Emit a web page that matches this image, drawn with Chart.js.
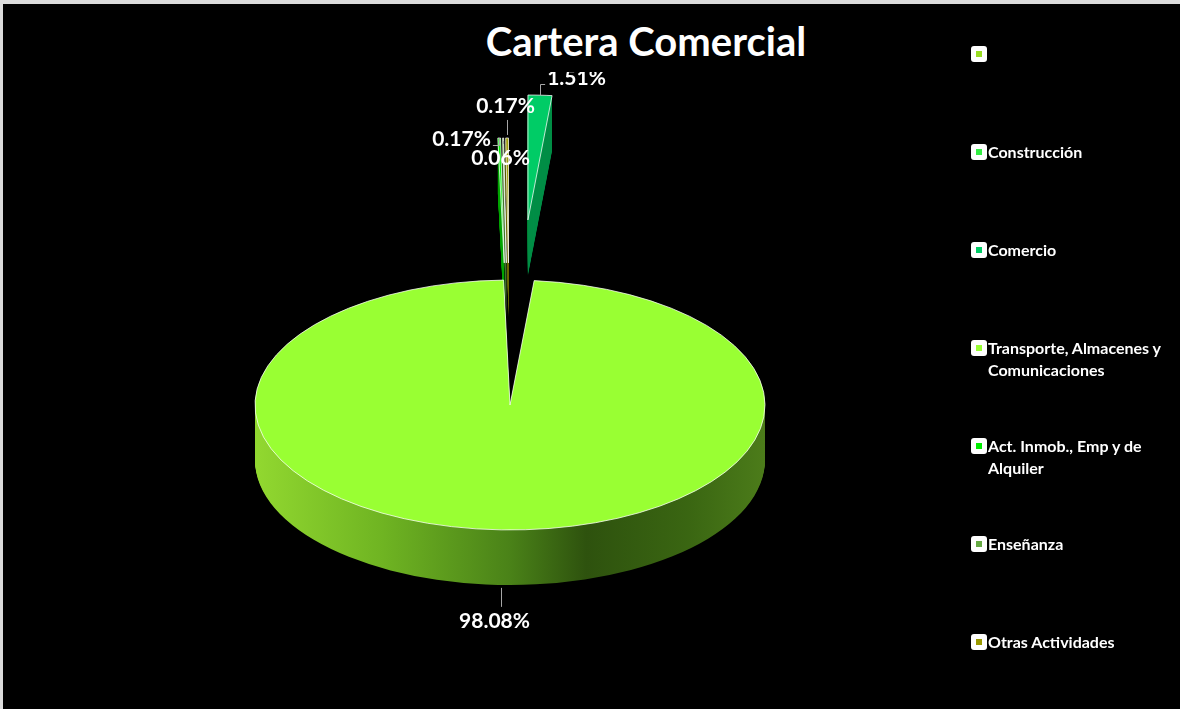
<!DOCTYPE html>
<html>
<head>
<meta charset="utf-8">
<title>Cartera Comercial</title>
<script src="https://cdn.jsdelivr.net/npm/chart.js@4.4.1/dist/chart.umd.min.js"></script>
<style>
  body { margin: 0; background: #dcdcdc; font-family: Lato, "Noto Sans", sans-serif; }
  #frame { position: absolute; left: 3px; top: 4px; width: 1177px; height: 705px; background: #000; }
  #pie { position: absolute; left: 0; top: 0; }
  #title {
    position: absolute; left: 460px; top: 8px; width: 372px; height: 64px;
    background: #000; color: #fff; font-weight: 700; font-size: 40px;
    line-height: 66px; text-align: center;
  }
  .item { position: absolute; left: 971px; display: flex; align-items: flex-start; }
  .sw {
    width: 16px; height: 16px; margin-top: 3px; background: #fff; border-radius: 3px;
    display: flex; align-items: center; justify-content: center;
  }
  .sw i { display: block; width: 6px; height: 6px; }
  .tx { width: 191px; padding-left: 1px; color: #fff; font-weight: 700; font-size: 16px; line-height: 22px; }
</style>
</head>
<body>
<div id="frame"></div>
<canvas id="pie" width="1180" height="709"></canvas>
<div id="title">Cartera Comercial</div>
<div id="legend"></div>
<script>
const categories = [
  "",
  "Construcción",
  "Comercio",
  "Transporte, Almacenes y Comunicaciones",
  "Act. Inmob., Emp y de Alquiler",
  "Enseñanza",
  "Otras Actividades"
];
const shares = [0, 0, 1.51, 98.08, 0.17, 0.06, 0.17];
const sliceColors = ["#99dd22", "#33ee44", "#00cc66", "#99ff33", "#00ee00", "#66aa44", "#999900"];

// legend on the right, one row every 98px
const legendBox = document.getElementById("legend");
categories.forEach((name, i) => {
  const item = document.createElement("div");
  item.className = "item";
  item.style.top = (43 + 98 * i) + "px";
  item.innerHTML = `<span class="sw"><i style="background:${sliceColors[i]}"></i></span><span class="tx">${name}</span>`;
  legendBox.appendChild(item);
});

function shade(hex, f) {
  const n = parseInt(hex.slice(1), 16);
  const r = Math.round(((n >> 16) & 255) * f);
  const g = Math.round(((n >> 8) & 255) * f);
  const b = Math.round((n & 255) * f);
  return `rgb(${r},${g},${b})`;
}

// fake 3D: squash the pie, extrude a side wall, push out the thin slices
const tiltPlugin = {
  id: "tilt",
  afterDatasetsUpdate(chart, args, opts) {
    chart.getDatasetMeta(0).data.forEach((arc, i) => {
      const mid = (arc.startAngle + arc.endAngle) / 2;
      const push = opts.explode[i] || 0;
      arc.x += Math.cos(mid) * push;
      arc.y += Math.sin(mid) * push;
    });
  },
  beforeDatasetsDraw(chart, args, opts) {
    const ctx = chart.ctx;
    const area = chart.chartArea;
    const cy = (area.top + area.bottom) / 2;
    const k = opts.tilt;
    const arcs = chart.getDatasetMeta(0).data;
    let big = 0;
    arcs.forEach((arc, i) => { if (arc.circumference > arcs[big].circumference) big = i; });

    ctx.save();
    ctx.translate(0, cy);
    ctx.scale(1, k);
    ctx.translate(0, -cy);

    arcs.forEach((arc, i) => {
      if (!arc.circumference) return;
      let fill;
      if (i === big) {
        const R = arc.outerRadius;
        fill = ctx.createLinearGradient(arc.x - R, 0, arc.x + R, 0);
        fill.addColorStop(0, "#92d830");
        fill.addColorStop(0.25, "#6fb422");
        fill.addColorStop(0.5, "#4a8218");
        fill.addColorStop(0.65, "#2e520e");
        fill.addColorStop(0.85, "#3a6612");
        fill.addColorStop(1, "#4c7c1a");
      } else {
        fill = shade(sliceColors[i], 0.7);
      }
      ctx.fillStyle = fill;
      for (let s = opts.depth; s > 0; s--) {
        const dy = s / k;
        ctx.beginPath();
        ctx.moveTo(arc.x, arc.y + dy);
        ctx.arc(arc.x, arc.y + dy, arc.outerRadius, arc.startAngle, arc.endAngle);
        ctx.closePath();
        ctx.fill();
      }
    });
  },
  afterDatasetsDraw(chart, args, opts) {
    const ctx = chart.ctx;
    ctx.restore();

    const area = chart.chartArea;
    const cy = (area.top + area.bottom) / 2;
    const k = opts.tilt;
    ctx.save();
    ctx.font = "bold 21px Lato";
    ctx.fillStyle = "#ffffff";
    ctx.strokeStyle = "#a6a6a6";
    ctx.lineWidth = 1;
    ctx.textAlign = "center";
    ctx.textBaseline = "middle";
    chart.getDatasetMeta(0).data.forEach((arc, i) => {
      const v = shares[i];
      if (!v) return;
      const mid = (arc.startAngle + arc.endAngle) / 2;
      const ax = Math.round(arc.x + Math.cos(mid) * arc.outerRadius) + 0.5;
      let ay = cy + (arc.y + Math.sin(mid) * arc.outerRadius - cy) * k;
      if (Math.sin(mid) > 0) ay += opts.depth;
      const shift = opts.labelShift[i] || [0, -20];
      const lx = ax + shift[0];
      const ly = ay + shift[1];
      const text = v.toFixed(2) + "%";
      const w = ctx.measureText(text).width;
      ctx.beginPath();
      if (Math.abs(shift[0]) < w / 2) {
        const from = ay + (shift[1] > 0 ? 3 : -3);
        const to = shift[1] > 0 ? ly - 14 : ly + 14;
        if ((to - from) * shift[1] > 0) {
          ctx.moveTo(ax, from);
          ctx.lineTo(ax, to);
        }
      } else {
        const ex = shift[0] > 0 ? lx - w / 2 - 2 : lx + w / 2 + 2;
        const ry = Math.round(ly + 6) + 0.5;
        ctx.moveTo(ax, ay);
        ctx.lineTo(ax, ry);
        ctx.lineTo(ex, ry);
      }
      ctx.stroke();
      ctx.fillText(text, lx, ly);
    });
    ctx.restore();
  }
};

new Chart(document.getElementById("pie"), {
  type: "pie",
  data: {
    labels: categories,
    datasets: [{
      data: shares,
      backgroundColor: sliceColors,
      borderColor: "#ffffff",
      borderWidth: 1,
      radius: 255,
      clip: false
    }]
  },
  options: {
    responsive: false,
    animation: false,
    events: [],
    layout: { padding: { left: 0, right: 160, top: 101, bottom: 0 } },
    plugins: {
      legend: { display: false },
      title: { display: false },
      tooltip: { enabled: false },
      tilt: {
        tilt: 0.49,
        depth: 55,
        explode: [0, 0, 378, 0, 290, 290, 290],
        labelShift: [null, null, [36, -17], [-7, 36], [-38, 1], [-3, 20], [-2, -32]]
      }
    }
  },
  plugins: [tiltPlugin]
});
</script>
</body>
</html>
